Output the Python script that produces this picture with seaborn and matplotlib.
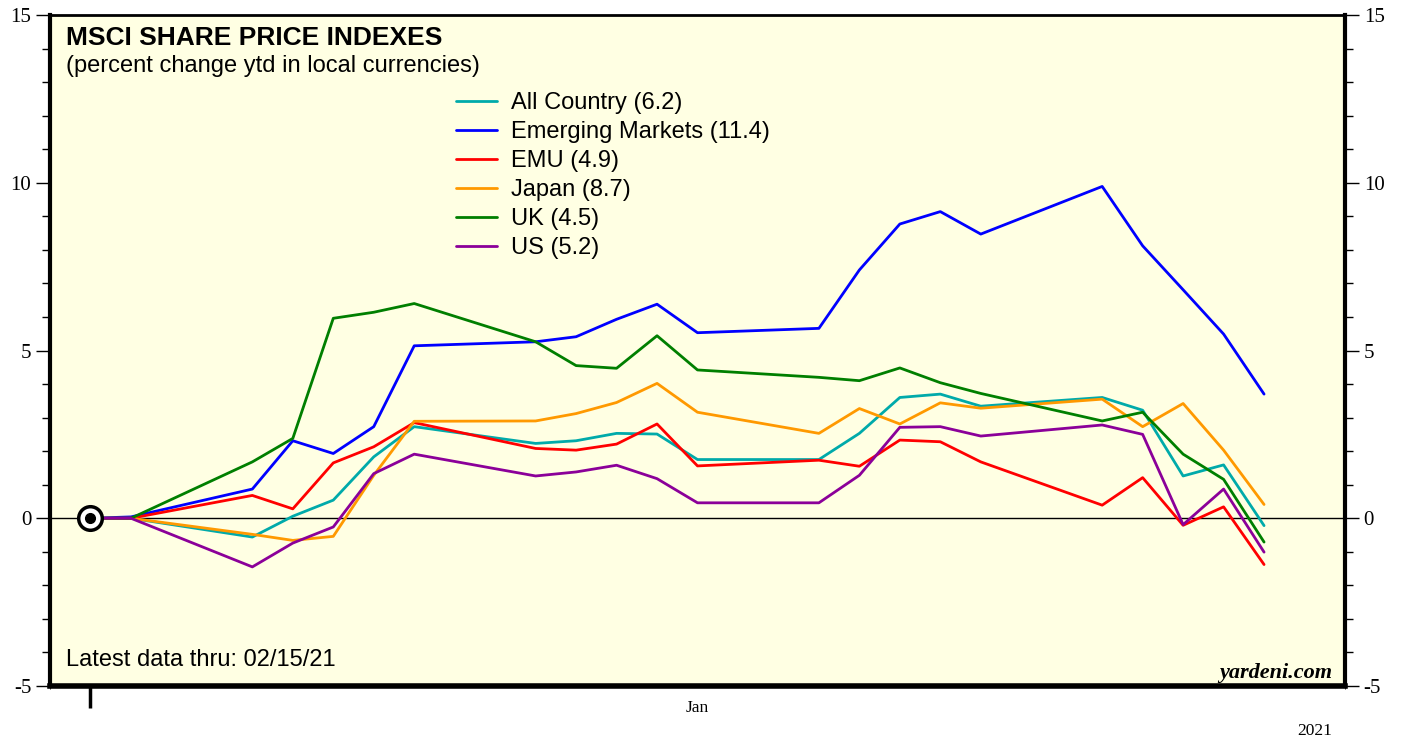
import matplotlib
matplotlib.use("Agg")
import matplotlib.pyplot as plt
import matplotlib.dates as mdates
import seaborn as sns
import pandas as pd

# data (percent change ytd)
dates = ["2020-12-31", "2021-01-01", "2021-01-04", "2021-01-05", "2021-01-06", "2021-01-07",
         "2021-01-08", "2021-01-11", "2021-01-12", "2021-01-13", "2021-01-14", "2021-01-15",
         "2021-01-18", "2021-01-19", "2021-01-20", "2021-01-21", "2021-01-22", "2021-01-25",
         "2021-01-26", "2021-01-27", "2021-01-28", "2021-01-29"]

all_country = [0, 0, -0.56, 0.06, 0.54, 1.83, 2.73, 2.23, 2.31, 2.53, 2.51, 1.75,
               1.75, 2.53, 3.60, 3.70, 3.34, 3.60, 3.22, 1.26, 1.59, -0.22]
emerging = [0, 0.04, 0.87, 2.31, 1.93, 2.73, 5.14, 5.26, 5.41, 5.93, 6.38, 5.53,
            5.66, 7.40, 8.77, 9.14, 8.47, 9.89, 8.12, 6.81, 5.49, 3.70]
emu = [0, 0, 0.68, 0.28, 1.65, 2.13, 2.85, 2.08, 2.03, 2.21, 2.81, 1.56,
       1.73, 1.55, 2.33, 2.28, 1.68, 0.39, 1.21, -0.21, 0.34, -1.38]
japan = [0, 0, -0.48, -0.66, -0.54, 1.28, 2.89, 2.90, 3.12, 3.45, 4.02, 3.16,
         2.53, 3.27, 2.81, 3.44, 3.28, 3.55, 2.73, 3.42, 2.03, 0.41]
uk = [0, 0, 1.68, 2.38, 5.96, 6.14, 6.40, 5.26, 4.55, 4.47, 5.44, 4.42,
      4.20, 4.10, 4.48, 4.04, 3.72, 2.90, 3.16, 1.91, 1.16, -0.71]
us = [0, 0, -1.45, -0.74, -0.26, 1.33, 1.91, 1.26, 1.38, 1.58, 1.18, 0.46,
      0.46, 1.28, 2.71, 2.73, 2.45, 2.78, 2.50, -0.19, 0.87, -1.01]

series_names = ["All Country (6.2)", "Emerging Markets (11.4)", "EMU (4.9)",
                "Japan (8.7)", "UK (4.5)", "US (5.2)"]
colors = ["#00AAAA", "#0000FF", "#FF0000", "#FF9900", "#007F00", "#8B0099"]

frames = []
for name, vals in zip(series_names, [all_country, emerging, emu, japan, uk, us]):
    frames.append(pd.DataFrame({"date": pd.to_datetime(dates), "value": vals, "series": name}))
df = pd.concat(frames, ignore_index=True)

sns.set_style("ticks")
plt.rcParams["axes.unicode_minus"] = False
plt.rcParams["text.color"] = "black"
plt.rcParams["xtick.color"] = "black"
plt.rcParams["ytick.color"] = "black"

fig = plt.figure(figsize=(14.05, 7.4), dpi=100)
ax = fig.add_axes([50 / 1405, 54 / 740, 1295 / 1405, 671 / 740])
ax.set_facecolor("#FFFFE3")

sns.lineplot(data=df, x="date", y="value", hue="series", palette=colors,
             hue_order=series_names, linewidth=2, ax=ax)

ax.axhline(0, color="black", linewidth=1, zorder=1)

# start marker
start = pd.to_datetime(dates[0])
ax.plot([start], [0], marker="o", markersize=17, markerfacecolor="white",
        markeredgecolor="black", markeredgewidth=2.5, zorder=5, clip_on=False)
ax.plot([start], [0], marker="o", markersize=7, color="black", zorder=6)

ax.set_xlim(pd.Timestamp("2020-12-30"), pd.Timestamp("2021-01-31"))
ax.set_ylim(-5, 15)
ax.set_xlabel("")
ax.set_ylabel("")

# y axis both sides
ax.set_yticks([-5, 0, 5, 10, 15])
ax.set_yticks(range(-5, 16), minor=True)
ax.tick_params(axis="y", which="both", direction="out", left=True, right=True,
               labelleft=True, labelright=True, labelsize=15, width=1)
ax.tick_params(axis="y", which="major", length=10)
ax.tick_params(axis="y", which="minor", length=6)
for lab in ax.get_yticklabels():
    lab.set_fontfamily("Liberation Serif")

# x axis: single year tick, month label as text
ax.set_xticks([start])
ax.set_xticklabels([""])
ax.tick_params(axis="x", which="major", direction="out", length=16, width=2.5)
ax.xaxis.set_minor_locator(mdates.DayLocator(bymonthday=[32]))
ax.text(pd.Timestamp("2021-01-15"), -5.66, "Jan", ha="center", va="center",
        fontsize=12.5, family="Liberation Serif")
ax.text(pd.Timestamp("2021-01-30 06:00"), -6.33, "2021", ha="center", va="center",
        fontsize=12.5, family="Liberation Serif", clip_on=False)

for side, w in [("left", 3), ("bottom", 4), ("right", 3), ("top", 2)]:
    ax.spines[side].set_visible(True)
    ax.spines[side].set_linewidth(w)
    ax.spines[side].set_color("black")

# titles
ax.text(0.012, 0.983, "MSCI SHARE PRICE INDEXES", transform=ax.transAxes,
        fontsize=19, fontweight="bold", family="Liberation Sans", va="top")
ax.text(0.012, 0.94, "(percent change ytd in local currencies)", transform=ax.transAxes,
        fontsize=17, family="Liberation Sans", va="top")
ax.text(0.012, 0.022, "Latest data thru: 02/15/21", transform=ax.transAxes,
        fontsize=17, family="Liberation Sans", va="bottom")
ax.text(0.99, 0.005, "yardeni.com", transform=ax.transAxes, fontsize=16,
        family="Liberation Serif", fontweight="bold", style="italic",
        ha="right", va="bottom")

leg = ax.legend(loc="upper left", bbox_to_anchor=(0.297, 0.917), frameon=False,
                prop={"family": "Liberation Sans", "size": 17},
                handlelength=1.75, handletextpad=0.6, labelspacing=0.3)
for line in leg.get_lines():
    line.set_linewidth(2)

fig.savefig("out.png", dpi=100)
